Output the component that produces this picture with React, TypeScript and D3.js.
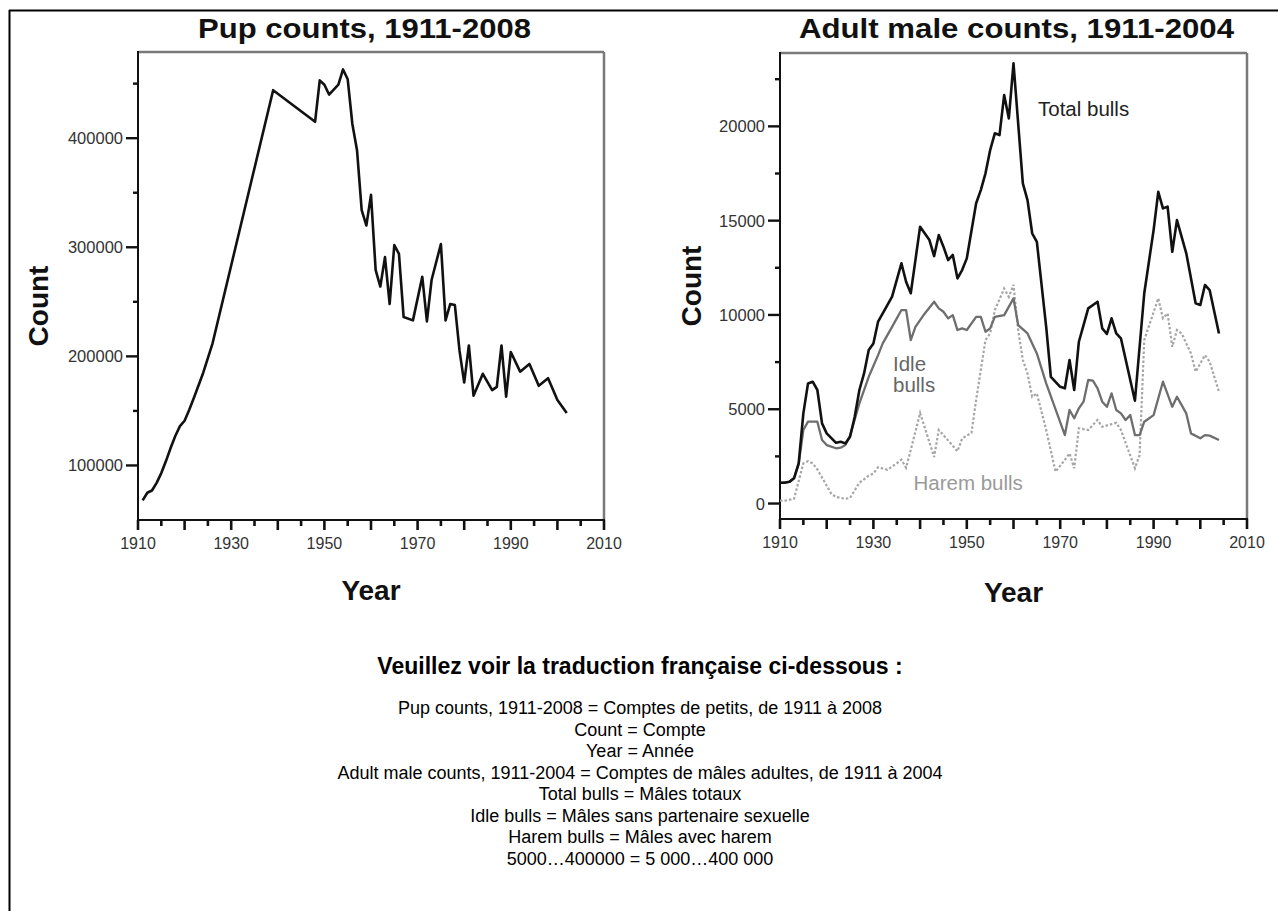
import React from "react";
import { scaleLinear, line, range } from "d3";

// pup counts (left panel)
const pupYears = [1911, 1912, 1913, 1914, 1915, 1916, 1917, 1918, 1919, 1920, 1921, 1922, 1924, 1926, 1939, 1948, 1949, 1950, 1951, 1953, 1954, 1955, 1956, 1957, 1958, 1959, 1960, 1961, 1962, 1963, 1964, 1965, 1966, 1967, 1969, 1971, 1972, 1973, 1975, 1976, 1977, 1978, 1979, 1980, 1981, 1982, 1984, 1986, 1987, 1988, 1989, 1990, 1992, 1994, 1996, 1998, 2000, 2002];
const pupCounts = [68000, 75000, 77000, 84000, 93000, 104000, 116000, 127000, 136000, 141000, 151000, 162000, 185000, 212000, 444000, 415000, 453000, 449000, 440000, 449000, 463000, 454000, 413000, 389000, 334000, 320000, 348000, 279000, 264000, 291000, 248000, 302000, 294000, 236000, 233000, 273000, 232000, 270000, 303000, 233000, 248000, 247000, 205000, 176000, 210000, 164000, 184000, 169000, 172000, 210000, 163000, 204000, 186000, 193000, 173000, 180000, 160000, 148000];

// adult males (right panel)
const totalYears = [1910, 1911, 1912, 1913, 1914, 1915, 1916, 1917, 1918, 1919, 1920, 1922, 1923, 1924, 1925, 1926, 1927, 1928, 1929, 1930, 1931, 1932, 1934, 1936, 1937, 1938, 1939, 1940, 1942, 1943, 1944, 1945, 1946, 1947, 1948, 1949, 1950, 1952, 1953, 1954, 1955, 1956, 1957, 1958, 1959, 1960, 1962, 1963, 1964, 1965, 1967, 1968, 1970, 1971, 1972, 1973, 1974, 1975, 1976, 1978, 1979, 1980, 1981, 1982, 1983, 1986, 1988, 1990, 1991, 1992, 1993, 1994, 1995, 1997, 1999, 2000, 2001, 2002, 2004];
const totalBulls = [1100, 1100, 1150, 1340, 2130, 4780, 6370, 6460, 6020, 4250, 3720, 3220, 3280, 3190, 3540, 4600, 6020, 6900, 8140, 8490, 9640, 10080, 10970, 12740, 11760, 11150, 12910, 14680, 13970, 13120, 14240, 13620, 12910, 13180, 11940, 12380, 13000, 15920, 16620, 17510, 18740, 19630, 19540, 21660, 20420, 23340, 16980, 16090, 14330, 13880, 9370, 6720, 6190, 6110, 7610, 6020, 8580, 9460, 10350, 10700, 9290, 8990, 9820, 9020, 8760, 5450, 11150, 14500, 16530, 15650, 15740, 13350, 15030, 13270, 10620, 10530, 11590, 11320, 9020];

const idleYears = [1910, 1912, 1913, 1914, 1915, 1916, 1918, 1919, 1920, 1922, 1923, 1924, 1925, 1927, 1929, 1931, 1932, 1934, 1936, 1937, 1938, 1939, 1941, 1943, 1944, 1945, 1946, 1947, 1948, 1949, 1950, 1952, 1953, 1954, 1955, 1956, 1958, 1960, 1961, 1963, 1965, 1967, 1971, 1972, 1973, 1974, 1975, 1976, 1977, 1978, 1979, 1980, 1981, 1982, 1983, 1984, 1985, 1986, 1987, 1988, 1990, 1992, 1994, 1995, 1997, 1998, 2000, 2001, 2002, 2004];
const idleBulls = [1100, 1150, 1340, 2100, 3900, 4340, 4340, 3370, 3100, 2930, 2960, 3100, 3600, 5310, 6720, 7870, 8490, 9370, 10260, 10260, 8670, 9370, 10080, 10700, 10350, 10170, 9820, 9990, 9200, 9290, 9200, 9900, 9900, 9110, 9290, 9900, 9990, 10880, 9460, 9020, 7960, 6370, 3630, 4960, 4520, 5050, 5400, 6550, 6520, 6110, 5400, 5130, 5840, 4960, 4780, 4430, 4690, 3630, 3630, 4340, 4690, 6460, 5130, 5660, 4780, 3720, 3460, 3630, 3600, 3370];

const haremYears = [1910, 1911, 1913, 1915, 1916, 1917, 1918, 1921, 1922, 1924, 1925, 1927, 1929, 1930, 1931, 1933, 1935, 1936, 1937, 1938, 1940, 1942, 1943, 1944, 1946, 1948, 1949, 1951, 1952, 1954, 1955, 1956, 1958, 1959, 1960, 1961, 1962, 1963, 1964, 1965, 1967, 1969, 1971, 1972, 1973, 1974, 1976, 1978, 1979, 1982, 1983, 1986, 1987, 1988, 1991, 1992, 1993, 1994, 1995, 1996, 1998, 1999, 2001, 2002, 2004];
const haremBulls = [150, 150, 250, 2130, 2240, 2130, 1810, 510, 350, 250, 300, 1100, 1480, 1590, 1920, 1790, 2130, 2330, 1900, 2840, 4800, 3250, 2470, 3900, 3350, 2770, 3450, 3750, 5500, 8670, 9020, 10260, 11400, 10960, 11600, 9200, 7610, 6900, 5660, 5840, 3900, 1690, 2310, 2660, 1870, 3990, 3900, 4430, 4070, 4280, 3900, 1870, 2570, 8670, 10880, 9820, 10080, 8310, 9200, 9020, 7960, 6990, 7870, 7520, 5930];

const yearTicks = [1910, 1930, 1950, 1970, 1990, 2010];
const pupTicks = [100000, 200000, 300000, 400000];
const maleTicks = [0, 5000, 10000, 15000, 20000];

const translation = [
  "Pup counts, 1911-2008 = Comptes de petits, de 1911 à 2008",
  "Count = Compte",
  "Year = Année",
  "Adult male counts, 1911-2004 = Comptes de mâles adultes, de 1911 à 2004",
  "Total bulls = Mâles totaux",
  "Idle bulls = Mâles sans partenaire sexuelle",
  "Harem bulls = Mâles avec harem",
  "5000…400000 = 5 000…400 000",
];

const FONT = "'Liberation Sans', Arial, Helvetica, sans-serif";

const zip = (xs: number[], ys: number[]) => xs.map((d, i) => [d, ys[i]] as [number, number]);

function Panel({ left, right, top, bottom, yDomain, yMajor, yMinor, title, titleX, titleY, titleW, countX, countY, yearY, render }: any) {
  const x = scaleLinear().domain([1910, 2010]).range([left, right]);
  const y = scaleLinear().domain(yDomain).range([bottom, top]);
  const xMinor = range(1910, 2011, 5);
  return (
    <g>
      {/* frame: gray top/right, black axes */}
      <line x1={left} x2={right} y1={top} y2={top} stroke="#7a7a7a" strokeWidth={2.5} />
      <line x1={right} x2={right} y1={top} y2={bottom} stroke="#7a7a7a" strokeWidth={2.5} />
      <line x1={left} x2={left} y1={top - 1} y2={bottom + 1} stroke="#111" strokeWidth={2} />
      <line x1={left - 1} x2={right + 1} y1={bottom} y2={bottom} stroke="#111" strokeWidth={2.2} />

      {xMinor.map((yr) => (
        <line key={yr} x1={x(yr)} x2={x(yr)} y1={bottom} y2={bottom + (yr % 10 === 0 ? 10 : 6)} stroke="#111" strokeWidth={2.6} />
      ))}
      {yearTicks.map((yr) => (
        <text key={yr} x={x(yr)} y={bottom + 29} textAnchor="middle" fontSize={16} fill="#333" fontFamily={FONT}>{yr}</text>
      ))}

      {yMinor.map((v: number) => (
        <line key={v} x1={left - (yMajor.includes(v) ? 12 : 5)} x2={left} y1={y(v)} y2={y(v)} stroke="#111" strokeWidth={2.4} />
      ))}
      {yMajor.map((v: number) => (
        <text key={v} x={left - 15} y={y(v) + 6} textAnchor="end" fontSize={16.5} fill="#333" fontFamily={FONT}>{v}</text>
      ))}

      <text x={titleX} y={titleY} textAnchor="middle" fontSize={28} fontWeight="bold" fontFamily={FONT} textLength={titleW} lengthAdjust="spacingAndGlyphs" fill="#111">{title}</text>
      <text transform={`translate(${countX},${countY}) rotate(-90)`} textAnchor="middle" fontSize={28} fontWeight="bold" fontFamily={FONT} fill="#111">Count</text>
      <text x={(left + right) / 2} y={yearY} textAnchor="middle" fontSize={28} fontWeight="bold" fontFamily={FONT} fill="#111">Year</text>

      {render(x, y)}
    </g>
  );
}

export default function App() {
  return (
    <svg width={1278} height={911} style={{ position: "absolute", left: 0, top: 0, background: "#fff" }}>
      <rect width={1278} height={911} fill="#fff" />
      <line x1={9} x2={1278} y1={10.5} y2={10.5} stroke="#000" strokeWidth={2} />
      <line x1={9.5} x2={9.5} y1={10} y2={911} stroke="#000" strokeWidth={2} />

      <Panel
        left={138} right={604} top={52} bottom={520}
        yDomain={[50000, 479000]} yMajor={pupTicks} yMinor={range(100000, 450001, 50000)}
        title="Pup counts, 1911-2008" titleX={364.5} titleY={38} titleW={333}
        countX={48} countY={306} yearY={600}
        render={(x: any, y: any) => {
          const path = line<[number, number]>().x((d) => x(d[0])).y((d) => y(d[1]));
          return <path d={path(zip(pupYears, pupCounts)) || ""} fill="none" stroke="#111" strokeWidth={2.6} strokeLinejoin="round" />;
        }}
      />

      <Panel
        left={780} right={1247} top={53} bottom={519}
        yDomain={[-820, 23890]} yMajor={maleTicks} yMinor={range(0, 22501, 2500)}
        title="Adult male counts, 1911-2004" titleX={1016.5} titleY={37.5} titleW={435}
        countX={701} countY={286} yearY={602}
        render={(x: any, y: any) => {
          const path = line<[number, number]>().x((d) => x(d[0])).y((d) => y(d[1]));
          return (
            <g>
              <path d={path(zip(haremYears, haremBulls)) || ""} fill="none" stroke="#a6a6a6" strokeWidth={2.2} strokeDasharray="2.5 2" />
              <path d={path(zip(idleYears, idleBulls)) || ""} fill="none" stroke="#6e6e6e" strokeWidth={2.3} strokeLinejoin="round" />
              <path d={path(zip(totalYears, totalBulls)) || ""} fill="none" stroke="#111" strokeWidth={2.6} strokeLinejoin="round" />
              <text x={1038} y={116} fontSize={20.5} fill="#222" fontFamily={FONT}>Total bulls</text>
              <text x={893} y={370.5} fontSize={20.5} fill="#666" fontFamily={FONT}>Idle</text>
              <text x={893} y={392} fontSize={20.5} fill="#666" fontFamily={FONT}>bulls</text>
              <text x={913.5} y={490} fontSize={20.5} fill="#9a9a9a" fontFamily={FONT}>Harem bulls</text>
            </g>
          );
        }}
      />

      <text x={640} y={674} textAnchor="middle" fontSize={23} fontWeight="bold" fontFamily={FONT} fill="#000">Veuillez voir la traduction française ci-dessous :</text>
      {translation.map((t, i) => (
        <text key={i} x={640} y={714 + i * 21.5} textAnchor="middle" fontSize={18} fontFamily={FONT} fill="#000">{t}</text>
      ))}
    </svg>
  );
}
